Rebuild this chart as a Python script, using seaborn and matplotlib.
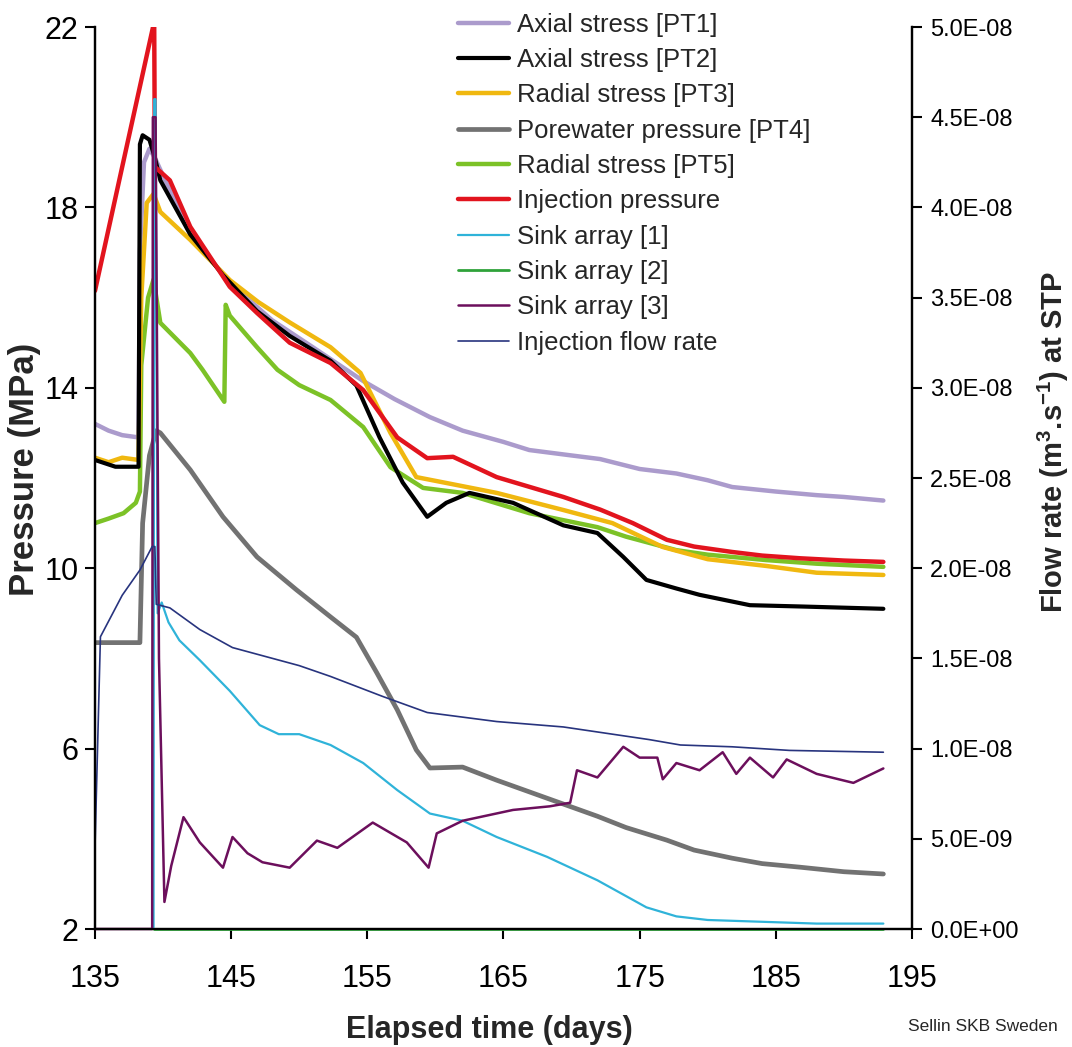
import matplotlib
matplotlib.use("Agg")
import matplotlib.pyplot as plt
import pandas as pd
import seaborn as sns
from matplotlib.ticker import FuncFormatter, FixedLocator

sns.set_style("ticks")
plt.rcParams['font.family'] = ['Liberation Sans', 'DejaVu Sans']
plt.rcParams['mathtext.fontset'] = 'custom'
plt.rcParams['mathtext.rm'] = 'Liberation Sans:bold'
plt.rcParams['mathtext.bf'] = 'Liberation Sans:bold'

NARROW = ['Liberation Sans Narrow', 'Liberation Sans', 'DejaVu Sans']

x_ticks = [135, 145, 155, 165, 175, 185, 195]
p_ticks = [2, 6, 10, 14, 18, 22]
f_ticks = [0, 0.5e-8, 1.0e-8, 1.5e-8, 2.0e-8, 2.5e-8, 3.0e-8, 3.5e-8, 4.0e-8, 4.5e-8, 5.0e-8]

# ---- pressure series (MPa), left axis ----
pt1_days = [135, 136, 137, 138.2, 138.3, 138.6, 139.0, 139.4, 140, 142, 145, 148, 151, 154.7,
            157, 159.6, 162, 165, 166.9, 170, 172.1, 175, 177.7, 180, 181.8, 185, 188, 190, 192.9]
pt1_mpa = [13.2, 13.05, 12.95, 12.9, 17.0, 19.0, 19.3, 19.1, 18.7, 17.4, 16.3, 15.5, 14.9, 14.15,
           13.75, 13.35, 13.05, 12.8, 12.62, 12.5, 12.42, 12.2, 12.1, 11.95, 11.8, 11.7, 11.62, 11.58, 11.5]

pt2_days = [135, 136.5, 138.2, 138.3, 138.5, 139.0, 139.4, 139.8, 142, 144.4, 146.9, 149.3, 152.3,
            154.2, 155.9, 157.6, 159.4, 160.8, 162.5, 165.7, 169.4, 171.9, 173.8, 175.5, 177.7,
            179.4, 183.1, 187, 192.9]
pt2_mpa = [12.4, 12.25, 12.25, 19.4, 19.6, 19.5, 19.1, 18.6, 17.4, 16.5, 15.7, 15.15, 14.6,
           14.05, 12.9, 11.9, 11.14, 11.45, 11.67, 11.45, 10.95, 10.78, 10.25, 9.74, 9.55,
           9.41, 9.18, 9.15, 9.1]

pt3_days = [135, 136, 137, 138.2, 138.4, 138.8, 139.3, 139.8, 142, 144.9, 147, 149.3, 152.3, 154.5,
            156.7, 158.6, 160.8, 164.5, 169.4, 173, 176.7, 180, 184.3, 188, 192.9]
pt3_mpa = [12.45, 12.35, 12.45, 12.4, 16.0, 18.1, 18.3, 17.9, 17.28, 16.39, 15.9, 15.45, 14.9, 14.33,
           13.0, 12.02, 11.89, 11.67, 11.29, 11.0, 10.47, 10.2, 10.05, 9.9, 9.85]

pt4_days = [135, 138.3, 138.5, 139.0, 139.5, 139.8, 142, 144.4, 146.9, 149.8, 152.3, 154.2, 155.7,
            157.2, 158.6, 159.6, 162, 164.5, 168.2, 171.9, 174, 177, 179, 181.8, 184, 186.8, 190, 192.9]
pt4_mpa = [8.35, 8.35, 11.0, 12.5, 13.05, 13.0, 12.18, 11.14, 10.25, 9.52, 8.92, 8.47, 7.68,
           6.86, 5.97, 5.57, 5.59, 5.3, 4.9, 4.5, 4.25, 3.97, 3.75, 3.57, 3.45, 3.37, 3.27, 3.22]

pt5_days = [135, 136, 137.1, 138.0, 138.3, 138.4, 138.9, 139.3, 139.8, 142, 142.9, 144.5, 144.6,
            144.9, 146.9, 148.4, 150, 152.3, 154.7, 156.7, 159.1, 162, 166.9, 171.9, 174, 177.7,
            180, 184.3, 188, 192.9]
pt5_mpa = [11.0, 11.1, 11.22, 11.45, 11.7, 14.5, 16.0, 16.4, 15.44, 14.77, 14.4, 13.69, 15.84,
           15.6, 14.9, 14.4, 14.06, 13.73, 13.13, 12.24, 11.78, 11.67, 11.22, 10.91, 10.7, 10.4,
           10.3, 10.18, 10.1, 10.03]

inj_days = [135, 137, 139.3, 139.35, 139.4, 140.5, 142, 144.9, 146.9, 149.3, 152.3, 154.7, 157.2,
            159.4, 161.3, 164.5, 169.4, 172.1, 174.5, 177, 179, 181.8, 184, 186.8, 190, 192.9]
inj_mpa = [16.15, 18.9, 22.05, 22.05, 18.9, 18.6, 17.57, 16.24, 15.66, 15.0, 14.55, 13.95, 12.9,
           12.44, 12.47, 12.02, 11.58, 11.3, 11.0, 10.63, 10.48, 10.36, 10.28, 10.22, 10.17, 10.14]

# ---- flow series (x 1e-8 m3/s), right axis ----
sink1_days = [139.3, 139.35, 139.45, 139.6, 139.9, 140.4, 141.2, 142.7, 144.9, 147.1, 148.5, 150,
              152.3, 154.7, 157.2, 159.6, 162, 164.5, 168.2, 171.9, 175.5, 177.7, 180, 184, 188, 192.9]
sink1_flow = [0.0, 4.6, 4.6, 1.75, 1.81, 1.70, 1.60, 1.49, 1.32, 1.13, 1.08, 1.08,
              1.02, 0.92, 0.77, 0.64, 0.60, 0.51, 0.40, 0.27, 0.12, 0.07, 0.05, 0.04, 0.03, 0.03]

sink2_days = [139.3, 192.9]
sink2_flow = [0.0, 0.0]

sink3_days = [135, 139.2, 139.25, 139.45, 139.7, 140.1, 140.6, 141.5, 142.7, 144.4, 145.1, 146.2,
              147.3, 149.3, 151.3, 152.8, 155.4, 157.9, 159.5, 160.1, 162, 165.7, 168.4, 169.9,
              170.4, 171.9, 173.8, 175, 176.3, 176.7, 177.7, 179.4, 181.1, 182.1, 183.1, 184.8,
              185.8, 188, 190.7, 192.9]
sink3_flow = [0, 0, 4.5, 4.5, 1.5, 0.15, 0.35, 0.62, 0.48, 0.34, 0.51, 0.42,
              0.37, 0.34, 0.49, 0.45, 0.59, 0.48, 0.34, 0.53, 0.60, 0.66, 0.68, 0.70,
              0.88, 0.84, 1.01, 0.95, 0.95, 0.83, 0.92, 0.88, 0.98, 0.86, 0.95, 0.84,
              0.94, 0.86, 0.81, 0.89]

flow_days = [135.0, 135.4, 137, 138.3, 139.2, 139.4, 139.5, 140.5, 142.7, 145.1, 150, 152.3, 156.1,
             159.4, 164.5, 169.4, 173, 175.7, 178, 181.8, 186, 192.9]
flow_rate = [0.45, 1.62, 1.85, 1.99, 2.12, 2.12, 1.80, 1.78, 1.66, 1.56, 1.46, 1.40, 1.29,
             1.20, 1.15, 1.12, 1.08, 1.05, 1.02, 1.01, 0.99, 0.98]

pressure = [
    ("Axial stress [PT1]", pt1_days, pt1_mpa, "#ab9bcc", 3.2),
    ("Axial stress [PT2]", pt2_days, pt2_mpa, "#000000", 3.0),
    ("Radial stress [PT3]", pt3_days, pt3_mpa, "#f0b810", 3.2),
    ("Porewater pressure [PT4]", pt4_days, pt4_mpa, "#727272", 3.4),
    ("Radial stress [PT5]", pt5_days, pt5_mpa, "#7cc227", 3.2),
    ("Injection pressure", inj_days, inj_mpa, "#e2141e", 3.2),
]
flows = [
    ("Sink array [1]", sink1_days, sink1_flow, "#2fb3d9", 1.6),
    ("Sink array [2]", sink2_days, sink2_flow, "#2fa23a", 2.0),
    ("Sink array [3]", sink3_days, sink3_flow, "#6c0f5c", 1.8),
    ("Injection flow rate", flow_days, flow_rate, "#28347e", 1.2),
]

fig = plt.figure(figsize=(10.72, 10.47), dpi=100)
ax = fig.add_axes([0.0886, 0.1127, 0.7621, 0.8615])
ax2 = ax.twinx()

draw_order = [0, 3, 4, 2, 1, 5]
for i in draw_order:
    name, d, v, c, lw = pressure[i]
    df = pd.DataFrame({"day": d, "val": v})
    sns.lineplot(data=df, x="day", y="val", ax=ax, color=c, lw=lw, label=name,
                 sort=False, estimator=None, legend=False)

for name, d, v, c, lw in flows:
    df = pd.DataFrame({"day": d, "val": [x * 1e-8 for x in v]})
    sns.lineplot(data=df, x="day", y="val", ax=ax2, color=c, lw=lw, label=name,
                 sort=False, estimator=None, legend=False, clip_on=False)

ax.set_xlim(135, 195)
ax.set_ylim(2, 22)
ax2.set_ylim(0, 5e-8)
ax.xaxis.set_major_locator(FixedLocator(x_ticks))
ax.yaxis.set_major_locator(FixedLocator(p_ticks))
ax2.yaxis.set_major_locator(FixedLocator(f_ticks))
ax2.yaxis.set_major_formatter(FuncFormatter(lambda v, p: f"{v:.1E}"))

for a in (ax, ax2):
    a.spines['top'].set_visible(False)
    for s in ('left', 'right', 'bottom'):
        a.spines[s].set_linewidth(1.6)
        a.spines[s].set_color('black')
ax.tick_params(axis='both', direction='out', length=7, width=1.5, colors='black')
ax2.tick_params(axis='y', direction='out', length=7, width=1.5, colors='black', labelsize=17)
for lab in ax.get_xticklabels() + ax.get_yticklabels():
    lab.set_family(NARROW)
    lab.set_fontsize(22)
ax.tick_params(axis='x', pad=18)
ax.tick_params(axis='y', pad=5)
ax2.tick_params(axis='y', pad=6)

ax.set_xlabel("Elapsed time (days)", fontsize=22, fontweight='bold')
ax.xaxis.set_label_coords(0.483, -0.095)
ax.set_ylabel("Pressure (MPa)", fontsize=25, fontweight='bold')
ax.yaxis.set_label_coords(-0.066, 0.51)
ax2.set_ylabel(r"Flow rate (m$^{3}$.s$^{-1}$) at STP", fontsize=21, fontweight='bold')
ax2.yaxis.set_label_coords(1.152, 0.54)

h1 = {l: h for h, l in zip(*ax.get_legend_handles_labels())}
h2 = {l: h for h, l in zip(*ax2.get_legend_handles_labels())}
hall = {**h1, **h2}
order = [p[0] for p in pressure] + [f[0] for f in flows]
ax2.legend([hall[n] for n in order], order, loc='upper left',
           bbox_to_anchor=(0.41, 1.005), bbox_transform=fig.transFigure,
           frameon=False, fontsize=18.5, labelspacing=0.44, handlelength=2.0,
           handletextpad=0.3, borderpad=0.2)

fig.text(0.987, 0.012, "Sellin SKB Sweden", ha='right', va='bottom', fontsize=12.5, family=NARROW)

fig.savefig("out.png", dpi=100, facecolor='white')
